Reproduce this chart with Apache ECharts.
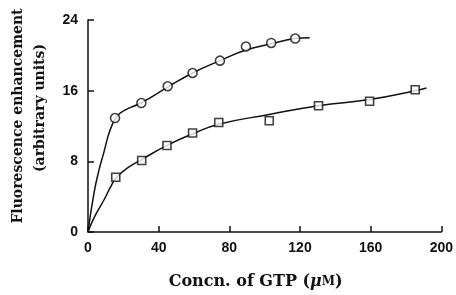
<!DOCTYPE html>
<html><head><meta charset="utf-8">
<script src="https://cdn.jsdelivr.net/npm/echarts@6/dist/echarts.min.js"></script>
<style>html,body{margin:0;padding:0;background:#fff}#c{width:456px;height:295px}</style>
</head><body><div id="c"></div>
<script>
// Circles (upper series)
const circleX = [15.3, 30.2, 45.1, 59.2, 74.7, 89.4, 103.7, 117.3];
const circleY = [12.9, 14.6, 16.5, 18.0, 19.4, 21.0, 21.4, 21.9];
// Squares (lower series)
const squareX = [15.7, 30.4, 44.7, 59.2, 74.0, 102.6, 130.5, 159.4, 185.2];
const squareY = [6.2, 8.1, 9.8, 11.2, 12.4, 12.6, 14.3, 14.8, 16.1];
// Fitted curves
const curveCX = [0, 3.4, 6.2, 9.1, 11.3, 13.6, 16.4, 20.9, 29.9, 45.1, 59.2, 74.7, 89.4, 103.7, 117.3, 125.5];
const curveCY = [0, 4.4, 7.0, 9.1, 10.8, 12.1, 13.1, 13.8, 14.6, 16.4, 18.0, 19.4, 20.6, 21.3, 21.9, 22.0];
const curveSX = [0, 3.4, 9.1, 12.8, 15.8, 22.0, 30.4, 44.7, 59.2, 74.0, 102.6, 130.5, 159.4, 185.2, 191.6];
const curveSY = [0, 1.6, 3.65, 5.1, 6.1, 7.2, 8.2, 9.8, 11.1, 12.2, 13.3, 14.3, 15.0, 16.0, 16.3];
const xTicks = [0, 40, 80, 120, 160, 200];
const yTicks = [0, 8, 16, 24];

const zip = (a, b) => a.map((v, i) => [v, b[i]]);
const ink = '#111';
const serif = '"DejaVu Serif"';
const chart = echarts.init(document.getElementById('c'));
chart.setOption({
  animation: false,
  grid: {left: 88, right: 14, top: 20, bottom: 61},
  xAxis: {
    type: 'value', min: xTicks[0], max: xTicks[xTicks.length - 1], interval: 40,
    axisLine: {lineStyle: {color: ink, width: 1.5}},
    axisTick: {inside: true, length: 6, lineStyle: {color: ink, width: 1.5}},
    splitLine: {show: false},
    axisLabel: {margin: 9, color: ink, fontSize: 14, fontFamily: 'Liberation Sans', fontWeight: 'bold'},
    name: '{a|Concn. of GTP (}{m|μ}{s|M}{a|)}', nameLocation: 'middle', nameGap: 42,
    nameTextStyle: {
      padding: [0, 18, 0, 0],
      rich: {
        a: {fontFamily: serif, fontWeight: 'bold', fontSize: 16, color: ink},
        m: {fontFamily: serif, fontStyle: 'italic', fontWeight: 'bold', fontSize: 16, color: ink},
        s: {fontFamily: serif, fontWeight: 'bold', fontSize: 12, color: ink}
      }
    }
  },
  yAxis: {
    type: 'value', min: yTicks[0], max: yTicks[yTicks.length - 1], interval: 8,
    axisLine: {show: true, lineStyle: {color: ink, width: 1.5}},
    axisTick: {show: true, inside: true, length: 6, lineStyle: {color: ink, width: 1.5}},
    splitLine: {show: false},
    axisLabel: {margin: 10, color: ink, fontSize: 14, fontFamily: 'Liberation Sans', fontWeight: 'bold'}
  },
  graphic: [
    {type: 'text', x: 18, y: 116, rotation: Math.PI / 2,
     style: {text: 'Fluorescence enhancement', fill: ink, font: 'bold 14px "DejaVu Serif"', textAlign: 'center', textVerticalAlign: 'middle'}},
    {type: 'text', x: 40, y: 108, rotation: Math.PI / 2,
     style: {text: '(arbitrary units)', fill: ink, font: 'bold 14px "DejaVu Serif"', textAlign: 'center', textVerticalAlign: 'middle'}}
  ],
  series: [
    {type: 'line', data: zip(curveCX, curveCY), smooth: 0.5, showSymbol: false, lineStyle: {color: ink, width: 1.5}, z: 2},
    {type: 'line', data: zip(curveSX, curveSY), smooth: 0.5, showSymbol: false, lineStyle: {color: ink, width: 1.5}, z: 2},
    {type: 'scatter', data: zip(circleX, circleY), symbol: 'circle', symbolSize: 9,
     itemStyle: {color: '#fff', borderColor: ink, borderWidth: 1.6}, z: 5},
    {type: 'scatter', data: zip(squareX, squareY), symbol: 'rect', symbolSize: 8,
     itemStyle: {color: '#fff', borderColor: ink, borderWidth: 1.6}, z: 5}
  ]
});
</script></body></html>
